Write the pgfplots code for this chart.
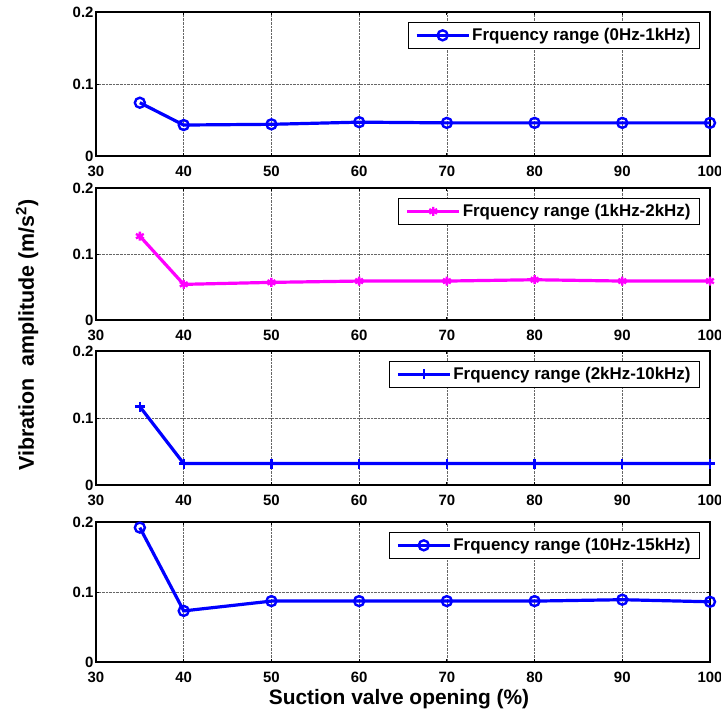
\documentclass[border=0pt]{standalone}
\usepackage{fontspec}
\setmainfont{Liberation Sans}
\usepackage{pgfplots}
\pgfplotsset{compat=1.18}
\definecolor{mblue}{RGB}{0,0,255}
\definecolor{mmag}{RGB}{255,0,255}
\pgfplotsset{panel/.style={
  scale only axis, width=614bp,
  xmin=30, xmax=100, ymin=0, ymax=0.2,
  xtick={30,40,50,60,70,80,90,100},
  xticklabels={30,40,50,60,70,80,90,100},
  ytick={0,0.1,0.2}, yticklabels={0,0.1,0.2},
  xmajorgrids, ymajorgrids,
  grid style={densely dotted, black!60, line width=0.7bp},
  tick align=inside, major tick length=3bp,
  tick style={black, line width=0.8bp},
  tick label style={font=\bfseries\fontsize{15}{16}\selectfont},
  xticklabel style={yshift=-7bp},
  yticklabel style={xshift=1bp},
  axis line style={black, line width=1.4bp},
  legend style={at={(1,1)}, anchor=north east, xshift=-10bp, yshift=-10bp,
    font=\bfseries\fontsize{17}{19}\selectfont, draw=black, line width=0.9bp,
    inner xsep=7bp, inner ysep=4bp},
  legend cell align=left,
  legend image code/.code={\draw[mark repeat=2,mark phase=2,##1] plot coordinates {(0bp,0bp) (26bp,0bp) (52bp,0bp)};},
  every axis plot/.append style={line width=3.2bp},
}}
\begin{document}
\begin{tikzpicture}[x=1bp,y=1bp]
\useasboundingbox (-96bp,-55bp) rectangle (625bp,662bp);
% panel 1
\begin{axis}[panel, height=144bp, at={(0bp,506bp)}, anchor=south west]
\addplot[color=mblue, mark=o, mark size=5bp, mark options={line width=2.4bp}] coordinates {
(35,0.074) (40,0.043) (50,0.044) (60,0.047) (70,0.046) (80,0.046) (90,0.046) (100,0.046)};
\addlegendentry{Frquency range (0Hz-1kHz)}
\end{axis}
% panel 2
\begin{axis}[panel, height=132bp, at={(0bp,342bp)}, anchor=south west]
\addplot[color=mmag, mark=asterisk, mark size=4.5bp, mark options={line width=2.4bp}] coordinates {
(35,0.127) (40,0.054) (50,0.057) (60,0.059) (70,0.059) (80,0.061) (90,0.059) (100,0.059)};
\addlegendentry{Frquency range (1kHz-2kHz)}
\end{axis}
% panel 3
\begin{axis}[panel, height=134bp, at={(0bp,177bp)}, anchor=south west]
\addplot[color=mblue, mark=+, mark size=5bp, mark options={line width=2.4bp}] coordinates {
(35,0.117) (40,0.032) (50,0.032) (60,0.032) (70,0.032) (80,0.032) (90,0.032) (100,0.032)};
\addlegendentry{Frquency range (2kHz-10kHz)}
\end{axis}
% panel 4
\begin{axis}[panel, height=140bp, at={(0bp,0bp)}, anchor=south west]
\addplot[color=mblue, mark=o, mark size=5bp, mark options={line width=2.4bp}] coordinates {
(35,0.192) (40,0.073) (50,0.087) (60,0.087) (70,0.087) (80,0.087) (90,0.089) (100,0.086)};
\addlegendentry{Frquency range (10Hz-15kHz)}
\end{axis}
\node[rotate=90, font=\bfseries\fontsize{21.5}{23}\selectfont] at (-69bp,327bp) {Vibration\ \ amplitude (m/s$^{\mathbf{2}}$)};
\node[font=\bfseries\fontsize{21}{22}\selectfont] at (303bp,-37bp) {Suction valve opening (\%)};
\end{tikzpicture}
\end{document}
